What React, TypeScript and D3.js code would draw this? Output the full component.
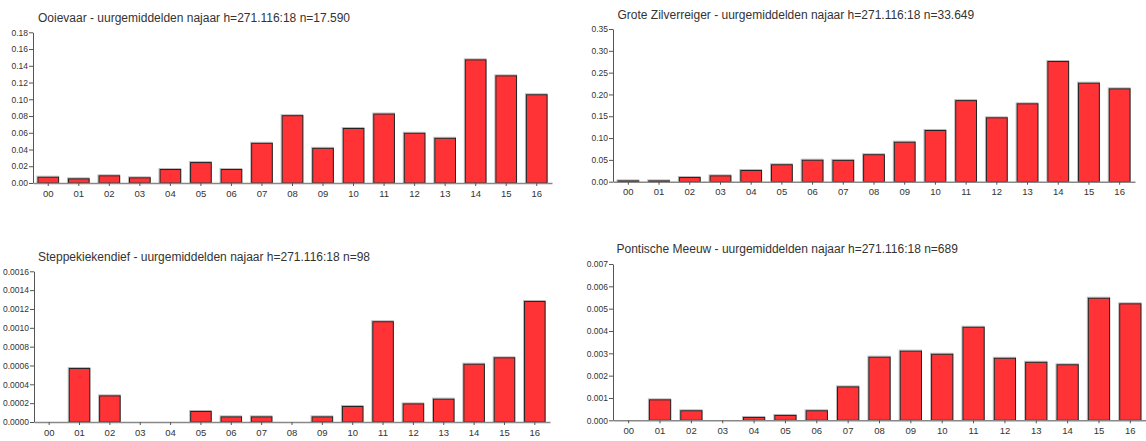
import React, { useEffect, useRef } from "react"
import * as d3 from "d3"

const hours = ["00", "01", "02", "03", "04", "05", "06", "07", "08", "09", "10", "11", "12", "13", "14", "15", "16"]

const titles = [
  "Ooievaar - uurgemiddelden najaar h=271.116:18 n=17.590",
  "Grote Zilverreiger - uurgemiddelden najaar h=271.116:18 n=33.649",
  "Steppekiekendief - uurgemiddelden najaar h=271.116:18 n=98",
  "Pontische Meeuw - uurgemiddelden najaar h=271.116:18 n=689",
]

const ooievaar = [0.0075, 0.0056, 0.0092, 0.0068, 0.0167, 0.025, 0.0167, 0.048, 0.081, 0.042, 0.0657, 0.083, 0.06, 0.054, 0.1477, 0.1286, 0.106]
const zilverreiger = [0.003, 0.003, 0.0107, 0.0146, 0.0268, 0.04, 0.0504, 0.05, 0.063, 0.0917, 0.1185, 0.187, 0.1476, 0.1797, 0.2766, 0.227, 0.214]
const steppekiekendief = [0, 0.000573, 0.000283, 0, 0, 0.000117, 0.00006, 0.00006, 0, 0.00006, 0.00017, 0.00107, 0.000198, 0.000248, 0.000619, 0.000687, 0.001285]
const pontischeMeeuw = [0, 0.00094, 0.00045, 0, 0.00015, 0.00024, 0.00045, 0.00152, 0.00285, 0.00312, 0.00298, 0.00419, 0.0028, 0.00262, 0.00251, 0.00549, 0.00524]

const yMax = [0.18, 0.35, 0.0016, 0.007]
const yStep = [0.02, 0.05, 0.0002, 0.001]
const yDecimals = [2, 2, 4, 3]

const series = [ooievaar, zilverreiger, steppekiekendief, pontischeMeeuw]

// plot boxes per panel: left, right, top, bottom, title x, title baseline
const panels = [
  { l: 33, r: 552, t: 32.3, b: 183, tx: 38, ty: 22 },
  { l: 613, r: 1135, t: 29, b: 181.7, tx: 617.5, ty: 18.5 },
  { l: 34, r: 550, t: 271.3, b: 422, tx: 38, ty: 260.5 },
  { l: 613, r: 1146, t: 264, b: 420.3, tx: 616.5, ty: 253 },
]

export default function App() {
  const ref = useRef<SVGSVGElement>(null)

  useEffect(() => {
    const svg = d3.select(ref.current)
    svg.selectAll("*").remove()

    panels.forEach((p, i) => {
      const data = series[i].map((v, j) => ({ h: hours[j], v })).filter(d => d.v > 0)
      const x = d3.scaleBand().domain(hours).range([p.l, p.r]).paddingInner(0.29).paddingOuter(0.145)
      const y = d3.scaleLinear().domain([0, yMax[i]]).range([p.b, p.t])
      const g = svg.append("g")

      g.append("text")
        .attr("x", p.tx)
        .attr("y", p.ty)
        .attr("font-family", "Liberation Sans, Arial, sans-serif")
        .attr("font-size", 12)
        .attr("fill", "#333")
        .text(titles[i])

      const ticks = d3.range(0, yMax[i] + yStep[i] / 2, yStep[i])
      const yAxis = g.append("g")
        .attr("transform", `translate(${p.l},0)`)
        .call(d3.axisLeft(y).tickValues(ticks).tickSize(4).tickSizeOuter(0).tickFormat(d => (+d).toFixed(yDecimals[i])))
      yAxis.select(".domain").attr("stroke", "#555")
      yAxis.selectAll(".tick line").attr("stroke", "#555")
      yAxis.selectAll(".tick text")
        .attr("font-family", "Liberation Sans, Arial, sans-serif")
        .attr("font-size", 8.5)
        .attr("fill", "#333")
        .attr("x", -5)

      // bars with a faint grey shadow edge
      g.selectAll(".shadow")
        .data(data)
        .join("rect")
        .attr("x", d => x(d.h)! - 0.5)
        .attr("y", d => y(d.v) - 0.5)
        .attr("width", x.bandwidth())
        .attr("height", d => p.b - y(d.v))
        .attr("fill", "none")
        .attr("stroke", "#bbb")

      g.selectAll(".bar")
        .data(data)
        .join("rect")
        .attr("x", d => x(d.h)! + 0.5)
        .attr("y", d => y(d.v) + 0.5)
        .attr("width", x.bandwidth() - 1)
        .attr("height", d => Math.max(0, p.b - y(d.v) - 0.5))
        .attr("fill", "#ff3336")
        .attr("stroke", "#222")

      const xAxis = g.append("g")
        .attr("transform", `translate(0,${p.b})`)
        .call(d3.axisBottom(x).tickSize(3).tickSizeOuter(0).tickPadding(4))
      xAxis.select(".domain").attr("stroke", "#888").attr("stroke-width", 1.5)
      xAxis.selectAll(".tick line").attr("stroke", "#555")
      xAxis.selectAll(".tick text")
        .attr("font-family", "Liberation Sans, Arial, sans-serif")
        .attr("font-size", 9.5)
        .attr("fill", "#333")
    })
  }, [])

  return (
    <svg
      ref={ref}
      width={1146}
      height={441}
      style={{ position: "absolute", left: 0, top: 0, background: "#fff" }}
    />
  )
}
